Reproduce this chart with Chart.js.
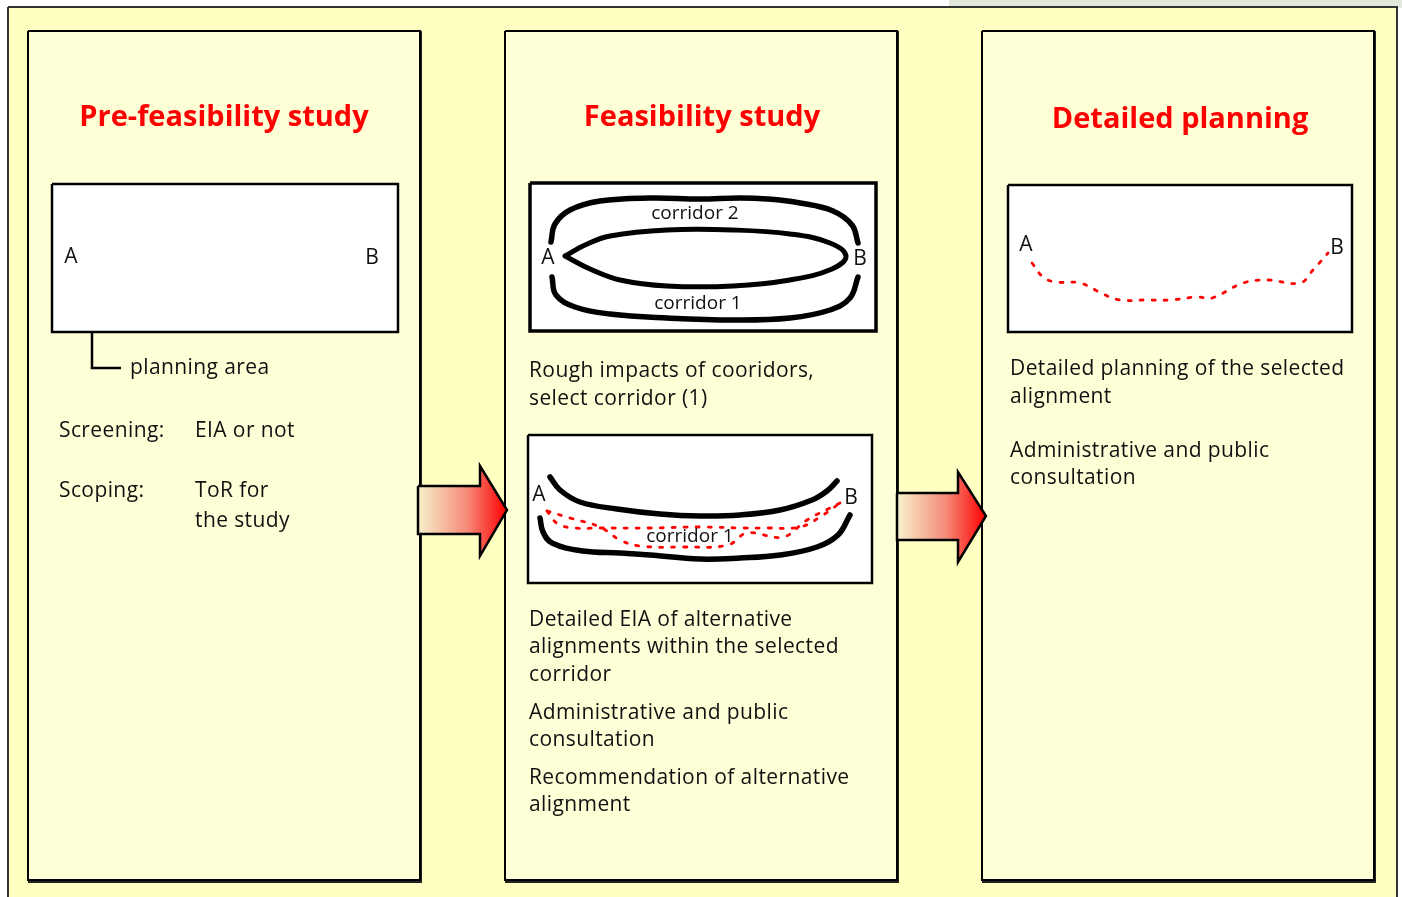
<!DOCTYPE html>
<html><head><meta charset="utf-8">
<script src="https://cdn.jsdelivr.net/npm/chart.js@4.4.1/dist/chart.umd.min.js"></script>
<style>html,body{margin:0;padding:0;background:#fff;}#wrap{width:1402px;height:897px;position:relative;}</style>
</head><body><div id="wrap"><canvas id="c"></canvas></div>
<script>
// ---------- data ----------
const titles = ["Pre-feasibility study", "Feasibility study", "Detailed planning"];
const panel1Lines = ["planning area", "Screening:", "EIA or not", "Scoping:", "ToR for", "the study"];
const panel2Lines = ["Rough impacts of cooridors,", "select corridor (1)",
  "Detailed EIA of alternative", "alignments within the selected", "corridor",
  "Administrative and public", "consultation",
  "Recommendation of alternative", "alignment"];
const panel3Lines = ["Detailed planning of the selected", "alignment", "Administrative and public", "consultation"];
const endLabels = ["A", "B"];
const corridorLabels = ["corridor 2", "corridor 1"];

// corridor sketch (feasibility, box 1)
const corridor2Arc = [[551,242],[555,224],[570,210],[600,201],[650,198],[700,199],[740,198],[767,199],[800,203],[833,211],[852,225],[858,243]];
const corridor1Loop = [[565,256],[585,245],[610,236],[667,230],[733,230],[790,234],[830,243],[846,256],[832,269],[790,280],[733,286],[667,286],[620,280],[590,269],[565,256]];
const corridor1Arc = [[552,277],[556,295],[575,307],[610,314],[667,318],[733,320],[790,318],[830,310],[850,298],[858,277]];
// alignment sketch (feasibility, box 2)
const upperEdge = [[550,477],[560,490],[580,502],[617,509],[660,514],[700,516],[740,515],[780,510],[812,500],[827,491],[837,481]];
const lowerEdge = [[540,518],[543,532],[552,543],[583,551],[620,553],[650,555],[700,559],[740,558],[780,555],[817,547],[838,535],[850,515]];
const altA = [[547,511],[558,524],[575,528],[600,528],[650,528],[700,527],[743,528],[767,528],[800,527],[820,517],[840,503]];
const altB = [[547,511],[570,518],[600,527],[620,540],[640,546],[683,547],[728,545],[747,533],[783,537],[807,520],[840,503]];
// selected alignment (detailed planning)
const finalAlign = [[1032,263],[1043,277],[1055,282],[1080,283],[1103,294],[1120,300],[1145,300],[1170,300],[1197,297],[1212,298],[1243,283],[1267,280],[1300,283],[1313,270],[1328,253]];

// ---------- layout ----------
const W = 1402, H = 897;
const font = "'Open Sans', Lato, sans-serif";
const outerFrame = [8, 7, 1397, 910];
const cornerTint = [949, 0, 1402, 8];
const panels = [[28, 31, 420, 880], [505, 31, 897, 880], [982, 31, 1374, 880]];
const boxes = [[52, 184, 398, 332, 2.5], [530, 183, 876, 331, 3.5], [528, 435, 872, 583, 2.5], [1008, 185, 1352, 332, 2.5]];
const bracket = [[92, 332], [92, 368], [121, 368]];
const arrows = [
  {x0: 418, y0: 486, y1: 534, hx: 480, ht: 466, hb: 556, tx: 507, ty: 510},
  {x0: 897, y0: 493, y1: 540, hx: 958, ht: 472, hb: 562, tx: 986, ty: 516}
];

function rectPts(r) { return [{x:r[0],y:r[1]},{x:r[2],y:r[1]},{x:r[2],y:r[3]},{x:r[0],y:r[3]},{x:r[0],y:r[1]}]; }
function pts(a) { return a.map(p => ({x:p[0], y:p[1]})); }
function arrowPts(a) {
  return [{x:a.x0,y:a.y0},{x:a.hx,y:a.y0},{x:a.hx,y:a.ht},{x:a.tx,y:a.ty},{x:a.hx,y:a.hb},{x:a.hx,y:a.y1},{x:a.x0,y:a.y1},{x:a.x0,y:a.y0}];
}

const ds = [];
function add(o) { ds.push(Object.assign({showLine:true, pointRadius:0, pointHoverRadius:0, clip:false, tension:0, borderWidth:0, fill:false, borderColor:'rgba(0,0,0,0)', backgroundColor:'rgba(0,0,0,0)'}, o)); }

add({data: rectPts(cornerTint), fill:'shape', backgroundColor:'#e1e9dc'});
add({data: rectPts(outerFrame), fill:'shape', backgroundColor:'#ffffc2', borderColor:'#333', borderWidth:2});
panels.forEach(p => {
  add({data: rectPts([p[0]+1,p[1]+1,p[2]+1,p[3]+2]), borderColor:'#222', borderWidth:2});
  add({data: rectPts(p), fill:'shape', backgroundColor:'#ffffd7', borderColor:'#000', borderWidth:2});
});
boxes.forEach(b => add({data: rectPts(b), fill:'shape', backgroundColor:'#ffffff', borderColor:'#000', borderWidth:b[4]}));
add({data: pts(bracket), borderColor:'#000', borderWidth:2.5});
arrows.forEach((a, i) => add({
  data: arrowPts(a), fill:'shape', borderColor:'#000', borderWidth:2.5, borderJoinStyle:'miter',
  backgroundColor: (ctx) => {
    const ch = ctx.chart; if (!ch.chartArea) return '#f55';
    const xs = ch.scales.x;
    const g = ch.ctx.createLinearGradient(xs.getPixelForValue(a.x0), 0, xs.getPixelForValue(a.tx), 0);
    g.addColorStop(0, '#f6f2cc'); g.addColorStop(0.55, '#f58a78'); g.addColorStop(1, '#ff0000');
    return g;
  }
}));
const thick = {borderColor:'#000', borderWidth:5.5, tension:0.4, borderCapStyle:'round', borderJoinStyle:'round'};
add(Object.assign({data: pts(corridor2Arc)}, thick));
add(Object.assign({data: pts(corridor1Loop)}, thick, {borderWidth:5}));
add(Object.assign({data: pts(corridor1Arc)}, thick));
add(Object.assign({data: pts(upperEdge)}, thick));
add(Object.assign({data: pts(lowerEdge)}, thick));
const dotted = {borderColor:'#ff0000', borderWidth:2.8, tension:0.4, borderDash:[3,9], borderCapStyle:'round'};
add(Object.assign({data: pts(altA)}, dotted));
add(Object.assign({data: pts(altB)}, dotted));
add(Object.assign({data: pts(finalAlign)}, dotted));
ds.forEach((d, i) => d.order = ds.length - i);

// text items (string from data arrays, position in layout)
const T = [];
const BODY = "21px " + font, TITLE = "bold 29px " + font, SMALL = "19px " + font, LETTER = "21px " + font;
[[titles[0],224,118],[titles[1],702,118],[titles[2],1180,120]].forEach(t => T.push({s:t[0], x:t[1], y:t[2], f:TITLE, c:'#ff0000', a:'center', ls:'0px'}));
[[0,130,368.5],[1,59,431.5],[2,195,431.5],[3,59,491.5],[4,195,491.5],[5,195,521.5]].forEach(t => T.push({s:panel1Lines[t[0]], x:t[1], y:t[2], f:BODY, c:'#111', a:'left', ls:'0.4px'}));
[371.5,399.5,620.5,647.5,675.5,713.5,740.5,778.5,805.5].forEach((y,i) => T.push({s:panel2Lines[i], x:529, y:y, f:BODY, c:'#111', a:'left', ls:'0.4px'}));
[369.5,397.5,451.5,478.5].forEach((y,i) => T.push({s:panel3Lines[i], x:1010, y:y, f:BODY, c:'#111', a:'left', ls:'0.4px'}));
[[0,71,257],[1,372,258],[0,548,258],[1,860,259],[0,539,495],[1,851,498],[0,1026,245],[1,1337,248]].forEach(t => T.push({s:endLabels[t[0]], x:t[1], y:t[2], f:LETTER, c:'#111', a:'center', ls:'0px'}));
[[0,695,214],[1,698,304],[1,690,537]].forEach(t => T.push({s:corridorLabels[t[0]], x:t[1], y:t[2], f:SMALL, c:'#111', a:'center', ls:'0px'}));

const textPlugin = {
  id:'texts',
  afterDatasetsDraw(chart) {
    const ctx = chart.ctx, xs = chart.scales.x, ys = chart.scales.y;
    ctx.save();
    ctx.textBaseline = 'middle';
    T.forEach(t => {
      ctx.font = t.f; ctx.fillStyle = t.c; ctx.textAlign = t.a;
      if ('letterSpacing' in ctx) ctx.letterSpacing = t.ls;
      ctx.fillText(t.s, xs.getPixelForValue(t.x), ys.getPixelForValue(t.y));
    });
    ctx.restore();
  }
};

new Chart(document.getElementById('c'), {
  type:'scatter',
  data:{datasets: ds},
  options:{
    responsive:true, maintainAspectRatio:false, animation:false, devicePixelRatio:1, events:[],
    layout:{padding:0},
    plugins:{legend:{display:false}, tooltip:{enabled:false}},
    scales:{
      x:{type:'linear', display:false, min:0, max:W},
      y:{type:'linear', display:false, min:0, max:H, reverse:true}
    }
  },
  plugins:[textPlugin]
});
</script></body></html>
